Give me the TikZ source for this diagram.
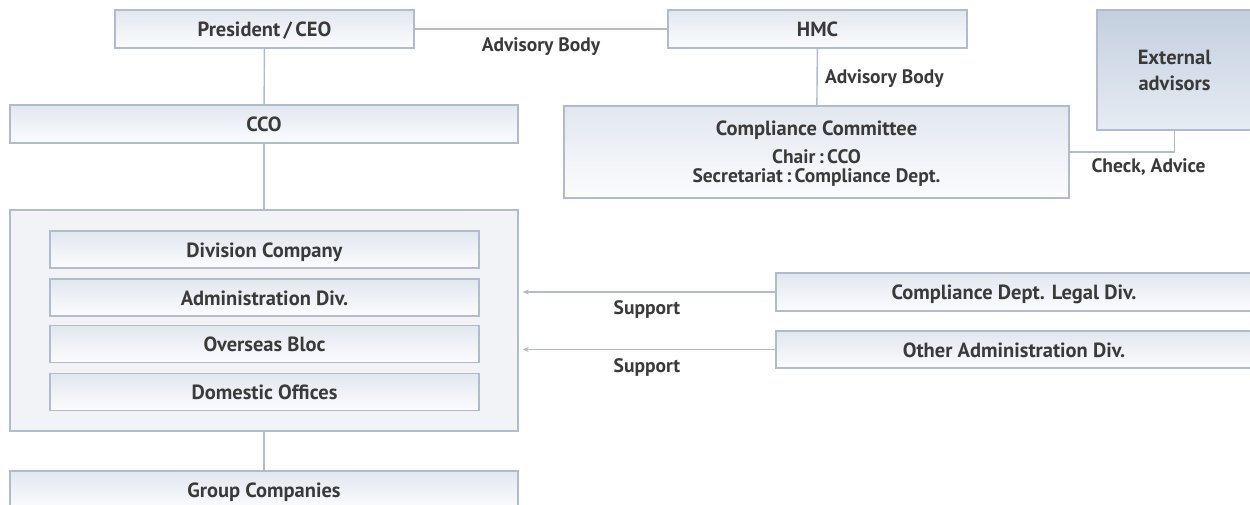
\documentclass[tikz,border=0pt]{standalone}
\usepackage{fontspec}
\setmainfont{PT Sans}
\usetikzlibrary{arrows.meta}
\definecolor{framegray}{HTML}{B2BBCB}
\definecolor{textgray}{HTML}{3A3A3A}
\definecolor{shadetop}{HTML}{E2E7EF}
\definecolor{shadebot}{HTML}{FBFCFE}
\definecolor{exttop}{HTML}{C3CFDF}
\definecolor{extbot}{HTML}{E7ECF3}
\definecolor{panelfill}{HTML}{F1F3F7}
\tikzset{x=1pt, y=-1pt,
  org box/.style={draw=framegray, line width=1.4pt, top color=shadetop,
        bottom color=shadebot, text=textgray, inner sep=0pt,
        font=\bfseries\fontsize{20.5}{26}\selectfont, minimum height=38pt},
  one line/.style={org box, text height=15.5pt, text depth=0pt},
  ext box/.style={org box, top color=exttop, bottom color=extbot},
  panel/.style={draw=framegray, line width=1.4pt, fill=panelfill},
  link/.style={draw=framegray, line width=1.4pt},
  support/.style={link, -{Stealth[length=6pt,width=5pt]}, shorten >=4pt},
  link label/.style={text=textgray, font=\bfseries\fontsize{19.5}{20}\selectfont}
}
\def\subline{\fontsize{19.5}{19}\selectfont}
\def\UnitRow#1#2#3{%
\node[one line, minimum width=429pt, minimum height=37pt] (#1) at (264.5,#2) {#3};
}

\begin{document}
\begin{tikzpicture}
\path[use as bounding box, clip] (0,0) rectangle (1250,504);
% top line
\node[one line, minimum width=299pt] (ceo) at (264.5,29) {President\,/\,CEO};
\node[one line, minimum width=299pt] (hmc) at (817.5,29) {HMC};
\node[ext box, minimum width=155pt, minimum height=120pt, align=center] (ext) at (1174.5,70)
  {External\\advisors};
\node[one line, minimum width=508pt] (cco) at (264,124) {CCO};
\node[org box, minimum width=505pt, minimum height=92pt, align=center, text depth=0pt,
      font=\bfseries\fontsize{20.5}{19}\selectfont] (cc) at (816.5,152)
  {Compliance Committee\\[9pt]
   \subline Chair\,:\,CCO\\
   \subline Secretariat\,:\,Compliance Dept.};
% divisions
\node[panel, minimum width=508pt, minimum height=221pt] (dept) at (264,320.5) {};
\UnitRow{divco}{249.5}{Division Company}
\UnitRow{admin}{297.5}{Administration Div.}
\UnitRow{overseas}{344}{Overseas Bloc}
\UnitRow{domestic}{392}{Domestic Offices}
\node[one line, minimum width=508pt] (group) at (264,490) {Group Companies};
\node[one line, minimum width=476pt] (legal) at (1014,292) {Compliance Dept. Legal Div.};
\node[one line, minimum width=476pt, minimum height=37pt] (other) at (1014,349.5) {Other Administration Div.};
% connectors
\draw[link] (ceo) -- (hmc) node[midway, below=5pt, link label] {Advisory Body};
\draw[link] (hmc) -- (cc) node[midway, right=4pt, yshift=-2pt, link label] {Advisory Body};
\draw[link] (ceo) -- (cco);
\draw[link] (cco) -- (dept);
\draw[link] (dept) -- (group);
\draw[link] (cc.east) -| (ext.south) node[pos=0.08, below right=3pt, xshift=-2pt, link label] {Check, Advice};
\draw[support] (legal.west) -- (legal.west -| dept.east) node[midway, below=5pt, link label] {Support};
\draw[support] (other.west) -- (other.west -| dept.east) node[midway, below=5pt, link label] {Support};
\end{tikzpicture}
\end{document}
